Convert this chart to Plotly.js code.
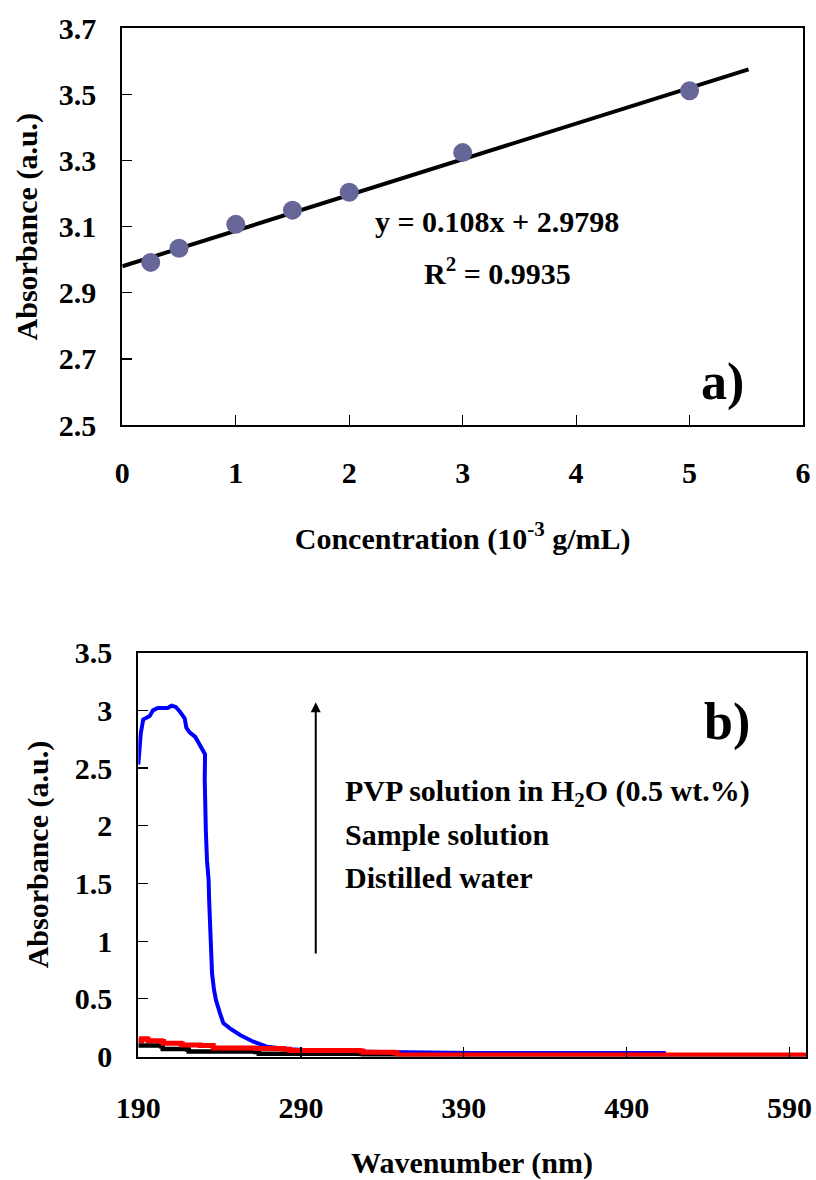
<!DOCTYPE html>
<html>
<head>
<meta charset="utf-8">
<script src="https://cdn.plot.ly/plotly-3.0.1.min.js"></script>
<style>html,body{margin:0;padding:0;background:#fff;}#chart{width:816px;height:1180px;}</style>
</head>
<body>
<div id="chart"></div>
<script>
// ---- Panel a) calibration data ----
const concX = [0.25, 0.5, 1, 1.5, 2, 3, 5];
const absY = [2.992, 3.035, 3.107, 3.150, 3.204, 3.324, 3.511];
const trendX = [0, 5.52];
const trendY = [2.98, 3.576];
const aTickX = [0, 1, 2, 3, 4, 5, 6];
const aTickY = [2.5, 2.7, 2.9, 3.1, 3.3, 3.5, 3.7];

// ---- Panel b) UV spectra ----
const pvpX = [190, 190.3, 191.5, 193, 195, 197, 199, 202, 205, 208, 210.5, 213, 215.5, 218.5, 219.5, 221.5, 225, 227.5, 230, 231, 230.8, 231, 231.5, 232.2, 233.2, 233.5, 234, 234.5, 235.3, 236.5, 237.7, 240.2, 242.2, 246.3, 252.5, 260.7, 268.9, 283.2, 300, 340, 396, 514];
const pvpY = [2.53, 2.6, 2.80, 2.92, 2.94, 2.95, 3.00, 3.02, 3.02, 3.02, 3.04, 3.03, 2.99, 2.93, 2.85, 2.81, 2.77, 2.71, 2.66, 2.62, 2.4, 2.2, 1.95, 1.7, 1.53, 1.36, 1.1, 0.9, 0.72, 0.58, 0.49, 0.375, 0.29, 0.245, 0.187, 0.129, 0.086, 0.063, 0.05, 0.04, 0.03, 0.03];
const sampleX = [190, 192, 195, 196, 204, 205.5, 216, 217, 228, 236, 262, 279, 283, 326, 328, 347, 349, 600];
const sampleY = [0.14, 0.155, 0.15, 0.138, 0.13, 0.115, 0.112, 0.1, 0.095, 0.075, 0.07, 0.063, 0.052, 0.048, 0.037, 0.034, 0.014, 0.012];
const waterX = [190, 204, 205, 220, 221, 262, 264, 326, 328, 600];
const waterY = [0.095, 0.09, 0.066, 0.062, 0.045, 0.04, 0.025, 0.022, 0.01, 0.005];
const bTickX = [190, 290, 390, 490, 590];
const bTickY = [0, 0.5, 1, 1.5, 2, 2.5, 3, 3.5];

const FONT = 'Liberation Serif, Times New Roman, serif';
const f = (s) => ({family: FONT, size: s, color: '#000', weight: 'bold'});

const traces = [
  {x: trendX, y: trendY, xaxis: 'x', yaxis: 'y', mode: 'lines', line: {color: '#000', width: 4}, showlegend: false, hoverinfo: 'skip'},
  {x: concX, y: absY, xaxis: 'x', yaxis: 'y', mode: 'markers', marker: {color: '#666699', size: 19}, showlegend: false},
  {x: pvpX, y: pvpY, xaxis: 'x2', yaxis: 'y2', mode: 'lines', line: {color: '#0000FF', width: 4}, showlegend: false},
  {x: waterX, y: waterY, xaxis: 'x2', yaxis: 'y2', mode: 'lines', line: {color: '#000000', width: 4.5, shape: 'hv'}, showlegend: false},
  {x: sampleX, y: sampleY, xaxis: 'x2', yaxis: 'y2', mode: 'lines', line: {color: '#FF0000', width: 5, shape: 'hv'}, showlegend: false}
];

const axCommon = {
  showgrid: false, zeroline: false, showline: true, mirror: true,
  linecolor: '#000', linewidth: 2, ticks: 'inside', ticklen: 10, tickwidth: 1.2, tickcolor: '#000',
  tickfont: f(30)
};

const layout = {
  width: 816, height: 1180,
  margin: {l: 0, r: 0, t: 0, b: 0},
  paper_bgcolor: '#fff', plot_bgcolor: '#fff',
  showlegend: false,
  xaxis: Object.assign({}, axCommon, {
    domain: [0.1499, 0.9841], anchor: 'y', range: [0, 6],
    tickmode: 'array', tickvals: aTickX, ticktext: aTickX.map(String),
    ticklabelstandoff: 20,
    title: {text: 'Concentration (10<sup>-3</sup> g/mL)', font: f(30), standoff: 40}
  }),
  yaxis: Object.assign({}, axCommon, {
    domain: [0.6398, 0.976], anchor: 'x', range: [2.5, 3.7],
    tickmode: 'array', tickvals: aTickY, ticktext: aTickY.map(v => v.toFixed(1)),
    ticklabelstandoff: 18,
    title: {text: 'Absorbance (a.u.)', font: f(30), standoff: 12}
  }),
  xaxis2: Object.assign({}, axCommon, {
    domain: [0.1695, 0.9874], anchor: 'y2', range: [190, 600],
    tickmode: 'array', tickvals: bTickX, ticktext: bTickX.map(String),
    ticklabelstandoff: 23,
    title: {text: 'Wavenumber (nm)', font: f(30), standoff: 42}
  }),
  yaxis2: Object.assign({}, axCommon, {
    domain: [0.1046, 0.4469], anchor: 'x2', range: [0, 3.5],
    tickmode: 'array', tickvals: bTickY, ticktext: bTickY.map(String),
    ticklabelstandoff: 18,
    title: {text: 'Absorbance (a.u.)', font: f(30), standoff: 17}
  }),
  annotations: [
    {xref: 'x', yref: 'y', x: 3.30, y: 3.117, text: 'y = 0.108x + 2.9798', showarrow: false, font: f(30), xanchor: 'center', yanchor: 'middle'},
    {xref: 'x', yref: 'y', x: 3.31, y: 2.966, text: 'R<sup>2</sup> = 0.9935', showarrow: false, font: f(30), xanchor: 'center', yanchor: 'middle'},
    {xref: 'x', yref: 'y', x: 5.29, y: 2.63, text: 'a)', showarrow: false, font: f(52), xanchor: 'center', yanchor: 'middle'},
    {xref: 'x2', yref: 'y2', x: 551.7, y: 2.9, text: 'b)', showarrow: false, font: f(52), xanchor: 'center', yanchor: 'middle'},
    {xref: 'x2', yref: 'y2', x: 315.8, y: 2.284, text: 'PVP solution in H<sub>2</sub>O (0.5 wt.%)', showarrow: false, font: f(30), xanchor: 'left', yanchor: 'middle'},
    {xref: 'x2', yref: 'y2', x: 315.8, y: 1.92, text: 'Sample solution', showarrow: false, font: f(30), xanchor: 'left', yanchor: 'middle'},
    {xref: 'x2', yref: 'y2', x: 315.8, y: 1.548, text: 'Distilled water', showarrow: false, font: f(30), xanchor: 'left', yanchor: 'middle'},
    {xref: 'x2', yref: 'y2', axref: 'x2', ayref: 'y2', x: 299, y: 3.07, ax: 299, ay: 0.88, text: '', showarrow: true, arrowhead: 2, arrowsize: 1, arrowwidth: 2, arrowcolor: '#000'}
  ]
};

Plotly.newPlot('chart', traces, layout, {staticPlot: true, displayModeBar: false});
</script>
</body>
</html>
